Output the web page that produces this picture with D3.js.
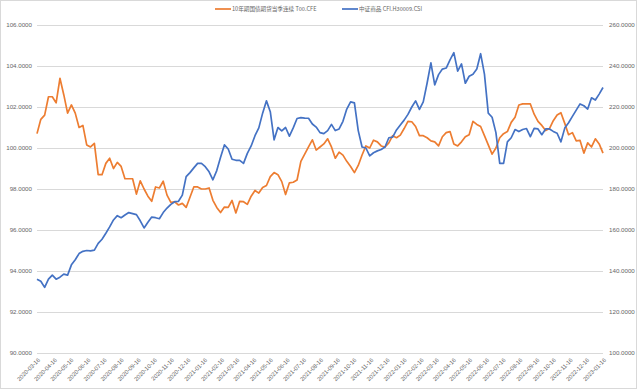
<!DOCTYPE html>
<html><head><meta charset="utf-8">
<script src="https://cdn.jsdelivr.net/npm/d3@7"></script>
<style>
html,body{margin:0;padding:0;background:#fff;}
svg{display:block;font-family:"Liberation Sans","Noto Sans CJK SC",sans-serif;}
</style></head>
<body>
<svg id="chart" width="640" height="391"></svg>
<script>
const dates = [
"2020-03-16","2020-03-23","2020-03-30","2020-04-06","2020-04-13","2020-04-20","2020-04-27","2020-05-04","2020-05-11","2020-05-18","2020-05-25",
"2020-06-01","2020-06-08","2020-06-15","2020-06-22","2020-06-29","2020-07-06","2020-07-13","2020-07-20","2020-07-27",
"2020-08-03","2020-08-10","2020-08-17","2020-08-24","2020-08-31","2020-09-07","2020-09-14","2020-09-21","2020-09-28",
"2020-10-05","2020-10-12","2020-10-19","2020-10-26","2020-11-02","2020-11-09","2020-11-16","2020-11-23","2020-11-30",
"2020-12-07","2020-12-14","2020-12-21","2020-12-28",
"2021-01-04","2021-01-11","2021-01-18","2021-01-25","2021-02-01","2021-02-08","2021-02-15","2021-02-22",
"2021-03-01","2021-03-08","2021-03-15","2021-03-22","2021-03-29","2021-04-05","2021-04-12","2021-04-19","2021-04-26",
"2021-05-03","2021-05-10","2021-05-17","2021-05-24","2021-05-31","2021-06-07","2021-06-14","2021-06-21","2021-06-28",
"2021-07-05","2021-07-12","2021-07-19","2021-07-26","2021-08-02","2021-08-09","2021-08-16","2021-08-23","2021-08-30",
"2021-09-06","2021-09-13","2021-09-20","2021-09-27","2021-10-04","2021-10-11","2021-10-18","2021-10-25",
"2021-11-01","2021-11-08","2021-11-15","2021-11-22","2021-11-29","2021-12-06","2021-12-13","2021-12-20","2021-12-27",
"2022-01-03","2022-01-10","2022-01-17","2022-01-24","2022-01-31","2022-02-07","2022-02-14","2022-02-21","2022-02-28",
"2022-03-07","2022-03-14","2022-03-21","2022-03-28","2022-04-04","2022-04-11","2022-04-18","2022-04-25",
"2022-05-02","2022-05-09","2022-05-16","2022-05-23","2022-05-30","2022-06-06","2022-06-13","2022-06-20","2022-06-27",
"2022-07-04","2022-07-11","2022-07-18","2022-07-25","2022-08-01","2022-08-08","2022-08-15","2022-08-22","2022-08-29",
"2022-09-05","2022-09-12","2022-09-19","2022-09-26","2022-10-03","2022-10-10","2022-10-17","2022-10-24","2022-10-31",
"2022-11-07","2022-11-14","2022-11-21","2022-11-28","2022-12-05","2022-12-12","2022-12-19","2022-12-26",
"2023-01-02","2023-01-09","2023-01-16"
];
const bondFutures = [
100.7,101.4,101.6,102.5,102.5,102.2,103.4,102.6,101.7,102.1,101.7,101.0,101.1,100.15,100.05,100.23,98.7,98.7,99.25,99.5,
99.0,99.3,99.1,98.5,98.5,98.5,97.75,98.4,98.0,97.65,97.4,98.1,98.05,98.38,97.7,97.35,97.37,97.22,97.3,97.1,
97.6,98.1,98.1,98.0,98.0,98.05,97.45,97.1,96.85,97.12,97.1,97.44,96.83,97.4,97.38,97.25,97.65,97.93,97.8,98.07,
98.17,98.6,98.8,98.7,98.36,97.73,98.3,98.33,98.44,99.35,99.7,100.05,100.4,99.9,100.05,100.2,100.45,100.05,99.5,99.8,
99.65,99.35,99.1,98.8,99.15,99.66,100.1,100.0,100.38,100.3,100.1,100.05,100.25,100.6,100.5,100.63,100.95,101.3,101.28,101.05,
100.6,100.6,100.5,100.35,100.3,100.1,100.55,100.75,100.8,100.2,100.1,100.3,100.55,100.65,101.3,101.15,101.05,100.6,100.15,99.7,
100.0,100.5,100.7,100.8,101.25,101.5,102.1,102.15,102.15,102.15,101.65,101.3,101.1,100.85,100.95,101.33,101.61,101.72,101.2,100.65,
100.75,100.35,100.37,99.75,100.25,100.05,100.45,100.2,99.75
];
const commodityIndex = [
136,135,132,136,138,136,137,138.5,138,143,145.5,148.5,149.6,150,149.8,150.2,153.5,155.5,158.4,161.5,
164.9,167,166,167.3,168.5,168,167.5,164.5,161,163.8,166.3,166,165.5,168.5,170.7,172.5,173.8,174,177,186,
188,190.3,192.5,192.5,190.9,188.4,184.5,189,195.5,201.5,199.5,194.5,194,194,192.5,197.4,201,206,209.8,217,
223,217.7,204,210,208.3,210,205.8,209.8,214.4,214.8,214.6,214.5,211.7,210.2,207.5,207,208.5,211.5,208.5,209.3,
213,219,222.5,222,208.5,200.5,200,196.2,197.7,198.6,199.3,200.5,205,205.3,208.8,211.2,213.6,216.4,220,223,
218.8,222.5,231.6,241.5,230.8,235.8,238.5,239,243,246.5,237.5,241,231.6,235,236,238.5,246,236,217,215,
207.5,192.5,192.5,203,205,209,208,209,209.5,205.5,209.6,209.3,206.5,209.3,209.3,208.1,207.2,203,209.7,212.3,
215.4,218.5,221.5,220.6,219,224.5,223.4,226.3,229.5
];
const leftTicks = [90,92,94,96,98,100,102,104,106];
const rightTicks = [100,120,140,160,180,200,220,240,260];
const xTickLabels = [
"2020-03-16","2020-04-16","2020-05-16","2020-06-16","2020-07-16","2020-08-16","2020-09-16","2020-10-16","2020-11-16","2020-12-16",
"2021-01-16","2021-02-16","2021-03-16","2021-04-16","2021-05-16","2021-06-16","2021-07-16","2021-08-16","2021-09-16","2021-10-16",
"2021-11-16","2021-12-16","2022-01-16","2022-02-16","2022-03-16","2022-04-16","2022-05-16","2022-06-16","2022-07-16","2022-08-16",
"2022-09-16","2022-10-16","2022-11-16","2022-12-16","2023-01-16"
];
const seriesNames = ["10年期国债期货当季连续 T00.CFE","中证商品 CFI.H30009.CSI"];
const colors = ["#ED7D31","#4472C4"];

const parse = d3.timeParse("%Y-%m-%d");
const svg = d3.select("#chart");
const L = 37, R = 603, T = 25, B = 353;

svg.append("rect").attr("x",0.5).attr("y",0.5).attr("width",636).attr("height",388)
  .attr("fill","none").attr("stroke","#d9d9d9");

const x = d3.scaleTime().domain([parse(xTickLabels[0]), parse(xTickLabels[xTickLabels.length-1])]).range([L,R]);
const yL = d3.scaleLinear().domain([90,106]).range([B,T]);
const yR = d3.scaleLinear().domain([100,260]).range([B,T]);

// gridlines
svg.append("g").selectAll("line").data(leftTicks).join("line")
  .attr("x1",L).attr("x2",R).attr("y1",d=>yL(d)+0.5).attr("y2",d=>yL(d)+0.5)
  .attr("stroke","#d9d9d9").attr("stroke-width",1);

// left axis
const gl = svg.append("g").attr("transform",`translate(${L-5},0)`)
  .call(d3.axisLeft(yL).tickValues(leftTicks).tickFormat(d3.format(".4f")).tickSize(0).tickPadding(0));
gl.select(".domain").remove();
gl.selectAll("text").attr("fill","#666").attr("font-size","6.2px");

// right axis
const gr = svg.append("g").attr("transform",`translate(${R+6},0)`)
  .call(d3.axisRight(yR).tickValues(rightTicks).tickFormat(d3.format(".4f")).tickSize(0).tickPadding(0));
gr.select(".domain").remove();
gr.selectAll("text").attr("fill","#666").attr("font-size","6.2px");

// x labels
svg.append("g").selectAll("text").data(xTickLabels).join("text")
  .attr("transform",d=>`translate(${x(parse(d))+2},${B+6}) rotate(-45)`)
  .attr("text-anchor","end").attr("dy","0.35em")
  .attr("fill","#666").attr("font-size","5.8px").text(d=>d);

// lines
const lineL = d3.line().x((d,i)=>x(parse(dates[i]))).y(d=>yL(d));
const lineR = d3.line().x((d,i)=>x(parse(dates[i]))).y(d=>yR(d));
svg.append("path").datum(bondFutures).attr("d",lineL).attr("fill","none")
  .attr("stroke",colors[0]).attr("stroke-width",1.7).attr("stroke-linejoin","round");
svg.append("path").datum(commodityIndex).attr("d",lineR).attr("fill","none")
  .attr("stroke",colors[1]).attr("stroke-width",1.7).attr("stroke-linejoin","round");

// legend
const legX = [215, 342];
const lg = svg.append("g");
seriesNames.forEach((n,i)=>{
  lg.append("line").attr("x1",legX[i]).attr("x2",legX[i]+16).attr("y1",9).attr("y2",9)
    .attr("stroke",colors[i]).attr("stroke-width",1.7);
  lg.append("text").attr("x",legX[i]+17).attr("y",9).attr("dy","0.35em")
    .attr("font-size","5.6px").attr("fill","#666")
    .attr("font-family","'Noto Sans CJK SC','Liberation Sans',sans-serif").text(n);
});
</script>
</body></html>
